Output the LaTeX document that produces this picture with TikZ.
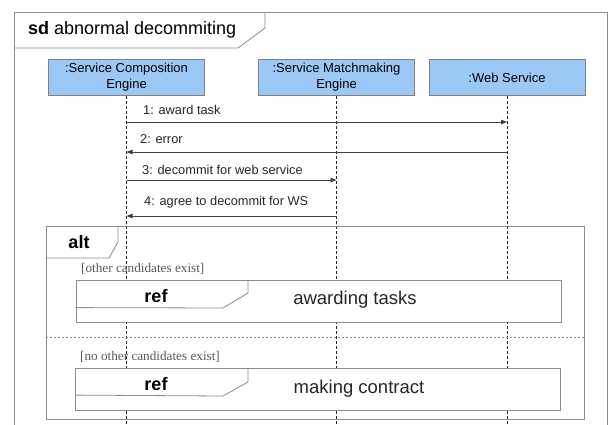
\documentclass[tikz,border=0pt]{standalone}
\usepackage{fontspec}
\setmainfont{Liberation Sans}
\newfontfamily\guardfont{Liberation Serif}
\usetikzlibrary{arrows.meta}
\definecolor{boxblue}{RGB}{155,200,245}
\definecolor{framegray}{RGB}{140,140,140}
\begin{document}
\begin{tikzpicture}[x=1pt,y=-1pt,
 lifebox/.style={draw=black!50, fill=boxblue, minimum width=156pt, minimum height=36pt, inner sep=0pt, align=center, font=\fontsize{13}{16}\selectfont},
 lifeline/.style={draw=black!85, line width=0.8pt, dash pattern=on 3pt off 2pt},
 msg/.style={draw=black!75, line width=0.8pt, -{Triangle[length=6pt,width=4.5pt]}},
 msglabel/.style={anchor=west, font=\fontsize{12.8}{14}\selectfont, inner sep=0pt, text=black!85},
 frameline/.style={draw=framegray, line width=0.8pt},
 guard/.style={font=\guardfont\fontsize{13.2}{15}\selectfont, text=black!65, anchor=west, inner sep=0pt},
 bigtext/.style={font=\fontsize{18.5}{20}\selectfont, inner sep=0pt, text=black!85},
 boldtag/.style={font=\bfseries\fontsize{18}{20}\selectfont, inner sep=0pt},
 refbox/.style={frameline, fill=white, minimum width=485pt, minimum height=42pt, inner sep=0pt},
]
\clip (0,0) rectangle (613,425);
\fill[white] (0,0) rectangle (613,425);

% sd frame
\draw[frameline] (14,430) -- (14,12) -- (607,12) -- (607,430);
\draw[frameline] (14,48) -- (238,48) -- (265,28) -- (265,12);
\node[anchor=west, inner sep=0pt, font=\fontsize{18}{20}\selectfont] (title) at (28,30) {\textbf{sd} abnormal decommiting};

% lifeline heads
\node[lifebox] (sce) at (126.5,77.5) {:Service Composition\\Engine};
\node[lifebox] (sme) at (336.5,77.5) {:Service Matchmaking\\Engine};
\node[lifebox] (ws) at (507,77.5) {:Web Service};

% lifelines
\coordinate (sceEnd) at (sce.south |- 0,430);
\coordinate (smeEnd) at (sme.south |- 0,430);
\coordinate (wsEnd) at (ws.south |- 0,430);
\draw[lifeline] (sce.south) -- (sceEnd);
\draw[lifeline] (sme.south) -- (smeEnd);
\draw[lifeline] (ws.south) -- (wsEnd);

% messages
\coordinate (m1a) at (sce.south |- 0,122); \coordinate (m1b) at (ws.south |- 0,122);
\coordinate (m2a) at (ws.south |- 0,152); \coordinate (m2b) at (sce.south |- 0,152);
\coordinate (m3a) at (sce.south |- 0,180); \coordinate (m3b) at (sme.south |- 0,180);
\coordinate (m4a) at (sme.south |- 0,216); \coordinate (m4b) at (sce.south |- 0,216);
\draw[msg] (m1a) -- (m1b);
\draw[msg] (m2a) -- (m2b);
\draw[msg] (m3a) -- (m3b);
\draw[msg] (m4a) -- (m4b);
\node[msglabel] (l1) at (143,110) {1: award task};
\node[msglabel] (l2) at (140,139) {2: error};
\node[msglabel] (l3) at (142,170) {3: decommit for web service};
\node[msglabel] (l4) at (144,202) {4: agree to decommit for WS};

% alt fragment
\draw[frameline] (46,226) rectangle (584,419);
\draw[frameline] (46,258) -- (109,258) -- (118,242) -- (118,226);
\node[boldtag] (alt) at (79,242) {alt};
\draw[frameline, dash pattern=on 2pt off 2pt] (46,337) -- (584,337);
\node[guard] (g1) at (81,269) {[other candidates exist]};
\node[guard] (g2) at (80,357) {[no other candidates exist]};

% ref 1
\node[refbox] (ref1) at (318.5,301) {};
\draw[frameline] (ref1.north west) ++(0,28) -- (223,308) -- (248,293) -- (248,280);
\node[boldtag] (r1tag) at (156,296) {ref};
\node[bigtext] (r1txt) at (355,300) {awarding tasks};

% ref 2
\node[refbox] (ref2) at (318,389.5) {};
\draw[frameline] (ref2.north west) ++(0,27) -- (223,396) -- (248,382) -- (248,368.5);
\node[boldtag] (r2tag) at (156,384) {ref};
\node[bigtext] (r2txt) at (359,389) {making contract};
\end{tikzpicture}
\end{document}
